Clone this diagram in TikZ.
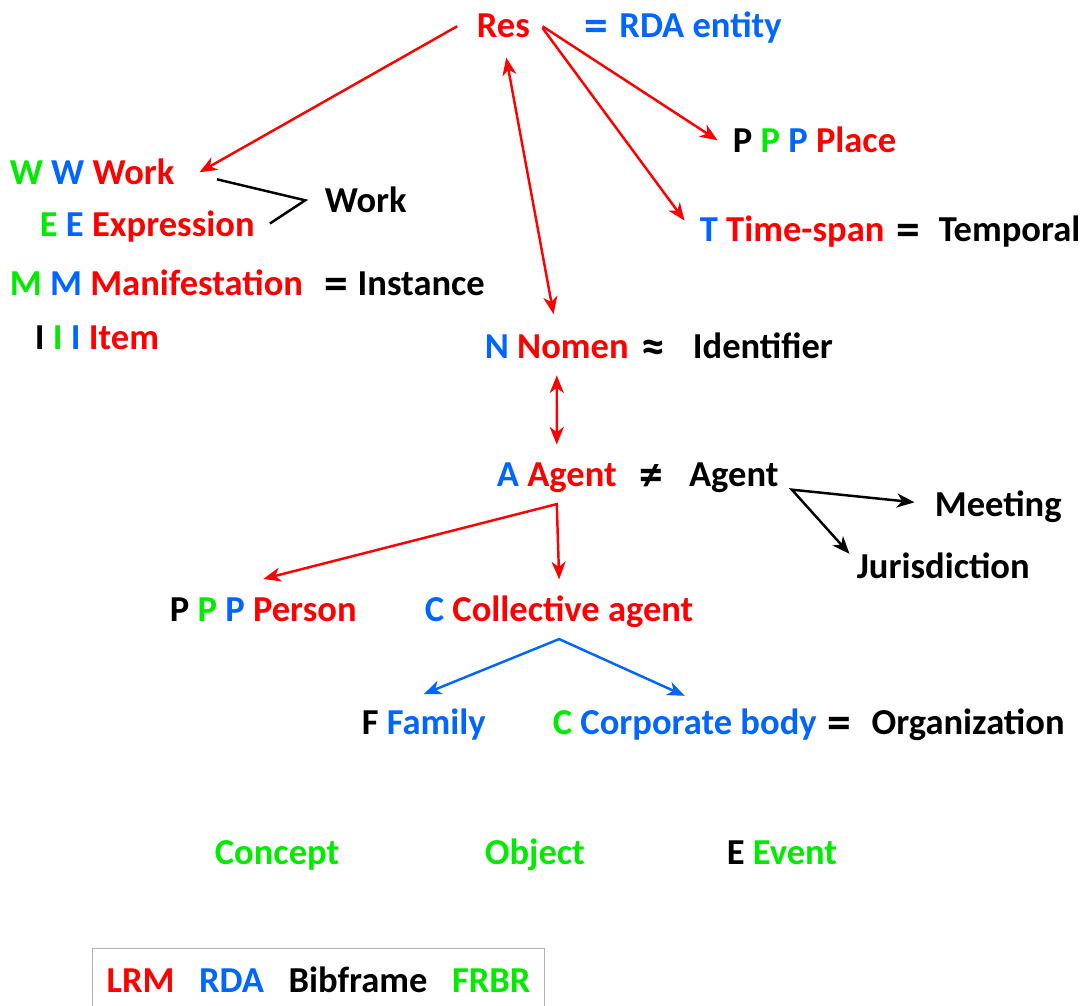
\documentclass[tikz,border=0pt]{standalone}
\usepackage{fontspec}
\setmainfont{Carlito}
\usetikzlibrary{arrows.meta}
\definecolor{lrmred}{RGB}{255,0,0}
\definecolor{rdablue}{RGB}{0,102,255}
\definecolor{frbrgreen}{RGB}{0,235,0}
\newcommand{\lrm}[1]{\textcolor{lrmred}{#1}}
\newcommand{\rda}[1]{\textcolor{rdablue}{#1}}
\newcommand{\frbr}[1]{\textcolor{frbrgreen}{#1}}
\newcommand{\symb}[1]{\raisebox{-1.8pt}{\fontsize{27}{24}\selectfont#1}}

\begin{document}
\begin{tikzpicture}[x=0.02cm, y=-0.02cm, >={Stealth[length=10pt,width=8pt,inset=3pt]},
    lbl/.style={anchor=base west, inner sep=2pt, font=\fontsize{20.8}{24}\selectfont\bfseries},
    lrmline/.style={lrmred, line width=1.4pt},
    rdaline/.style={rdablue, line width=1.4pt},
    bfline/.style={black, line width=1.4pt}]

        \useasboundingbox (0,0) rectangle (1083,1006);

        % RES VE ALT SINIFLAR
        \node[lbl, text=lrmred] (res) at (473,38) {Res};
        \node[lbl, text=rdablue] (rdaent) at (581,38) {\symb{=}\hspace{0.3em}RDA entity};

        \node[lbl] (work) at (6,185) {\frbr{W} \rda{W} \lrm{Work}};
        \node[lbl] (expr) at (36,237) {\frbr{E} \rda{E} \lrm{Expression}};
        \node[lbl] (workbf) at (321,213) {Work};
        \node[lbl] (manif) at (6,296) {\frbr{M} \rda{M} \lrm{Manifestation}};
        \node[lbl] (instance) at (321,296) {\symb{=}\hspace{0.25em}Instance};
        \node[lbl] (item) at (31,350) {I \frbr{I} \rda{I} \lrm{Item}};

        \node[lbl] (place) at (729,153) {P \frbr{P} \rda{P} \lrm{Place}};
        \node[lbl] (time) at (696,242) {\rda{T} \lrm{Time-span}};
        \node[lbl] (temporal) at (893,242) {\symb{=}\hspace{0.5em}Temporal};

        \node[lbl] (nomen) at (481,359) {\rda{N} \lrm{Nomen}};
        \node[lbl] (ident) at (638,359) {\symb{≈}\hspace{0.75em}Identifier};

        % AGENT KISMI
        \node[lbl] (agent) at (493,487) {\rda{A} \lrm{Agent}};
        \node[lbl] (agentbf) at (636,487) {\symb{≠}\hspace{0.7em}Agent};
        \node[lbl] (meeting) at (931,517) {Meeting};
        \node[lbl] (juris) at (853,579) {Jurisdiction};
        \node[lbl] (person) at (166,622) {P \frbr{P} \rda{P} \lrm{Person}};
        \node[lbl] (coll) at (421,622) {\rda{C} \lrm{Collective agent}};
        \node[lbl] (family) at (358,735) {F \rda{Family}};
        \node[lbl] (corp) at (549,735) {\frbr{C} \rda{Corporate body}};
        \node[lbl] (org) at (824,735) {\symb{=}\hspace{0.55em}Organization};

        \node[lbl, text=frbrgreen] (concept) at (211,865) {Concept};
        \node[lbl, text=frbrgreen] (object) at (481,865) {Object};
        \node[lbl] (event) at (723,865) {E \frbr{Event}};

        % LEJANT
        \node[draw=gray!60, line width=0.6pt, minimum width=257pt, minimum height=36pt, inner sep=0pt,
              font=\fontsize{20.8}{24}\selectfont\bfseries] (legend) at (318.5,980)
              {\lrm{LRM}\hspace{14pt}\rda{RDA}\hspace{14pt}Bibframe\hspace{14pt}\frbr{FRBR}};

        % Oklar
        \draw[->, lrmline] ([xshift=-9pt]res.west) -- ([xshift=12pt]work.east);
        \draw[->, lrmline] ([xshift=5pt]res.east) -- ([xshift=-6.5pt]place.west);
        \draw[->, lrmline] ([xshift=5pt,yshift=-1pt]res.east) -- ([xshift=-6.5pt,yshift=6.5pt]time.west);
        \draw[<->, lrmline, shorten <=9pt, shorten >=10pt] (res.south) -- (nomen.north);
        \draw[<->, lrmline, shorten <=7pt, shorten >=8.5pt] (nomen.south) -- (agent.north);
        \draw[<->, lrmline] ([yshift=8.8pt]person.north) -- ([yshift=-4pt]agent.south) -- ([yshift=7.5pt]coll.north);
        \draw[<->, rdaline] ([yshift=6.5pt]family.north) -- ([yshift=-4pt]coll.south) -- ([yshift=5.5pt]corp.north);
        \draw[<->, bfline] ([xshift=-9.4pt,yshift=2.8pt]meeting.west) -- ([xshift=5.4pt,yshift=4.2pt]agentbf.south east) -- ([xshift=-2pt,yshift=-2.5pt]juris.north west);
        \draw[bfline] ([xshift=22pt,yshift=-4pt]work.east) -- ([xshift=-9pt]workbf.west) -- ([xshift=6.5pt,yshift=2pt]expr.east);
    \end{tikzpicture}
\end{document}
